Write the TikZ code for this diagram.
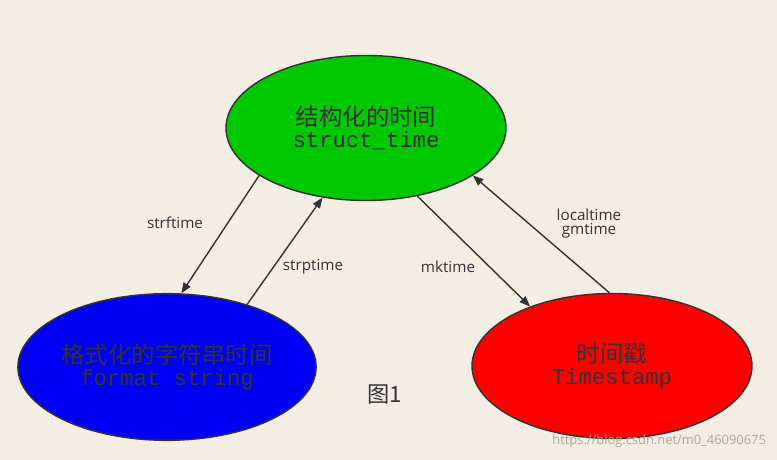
\documentclass[tikz,border=0pt]{standalone}
\usepackage{fontspec}
\setmainfont{Open Sans}
\newfontfamily\cjk{Noto Sans CJK SC}
\newfontfamily\monof{Liberation Mono}
\usetikzlibrary{shapes.geometric,arrows.meta}
\definecolor{bg}{HTML}{F4EDE3}
\definecolor{ink}{HTML}{333333}
\begin{document}
\begin{tikzpicture}[x=0.03cm,y=-0.03cm,
  st/.style={ellipse,draw=ink,line width=1.2pt,minimum width=280\pgfmathresult pt,align=center,text=ink,inner sep=0pt},
  con/.style={draw=ink,line width=1.2pt,-{Triangle[length=9pt,width=7pt]}},
  lab/.style={text=ink,font=\fontsize{13}{15}\selectfont,align=center}]
\fill[bg] (0,0) rectangle (777,460);
\useasboundingbox (0,0) rectangle (777,460);
\node[st,fill={rgb,255:red,0;green,200;blue,0},minimum width=8.4cm,minimum height=4.35cm] (g) at (366,128)
  {{\cjk\fontsize{20}{24}\selectfont 结构化的时间}\\[2pt]{\monof\fontsize{19}{22}\selectfont struct\_time}};
\node[st,fill={rgb,255:red,0;green,0;blue,245},minimum width=8.4cm,minimum height=4.4cm] (b) at (167,367)
  {{\cjk\fontsize{20}{24}\selectfont 格式化的字符串时间}\\[2pt]{\monof\fontsize{19}{22}\selectfont format string}};
\node[st,fill={rgb,255:red,255;green,0;blue,0},minimum width=8.4cm,minimum height=4.35cm] (r) at (612,366)
  {{\cjk\fontsize{20}{24}\selectfont 时间戳}\\[2pt]{\monof\fontsize{19}{22}\selectfont Timestamp}};
\draw[con] (g.-156) -- (b.79);
\draw[con] (b.38) -- (g.-122);
\draw[con] (g.-53) -- (r.144);
\draw[con] (r.92) -- (g.-24);
\node[lab] (l1) at (175,223) {strftime};
\node[lab] (l2) at (313,267) {strptime};
\node[lab] (l3) at (448,267) {mktime};
\node[lab] (l4) at (589,224) {localtime\\[-3pt]gmtime};
\node[text=ink,font=\cjk\fontsize{19}{22}\selectfont] (f) at (385,395) {图1};
\node[text=gray!70,font=\fontsize{11}{13}\selectfont,anchor=east] (w) at (770,441) {https://blog.csdn.net/m0\_46090675};
\end{tikzpicture}
\end{document}
